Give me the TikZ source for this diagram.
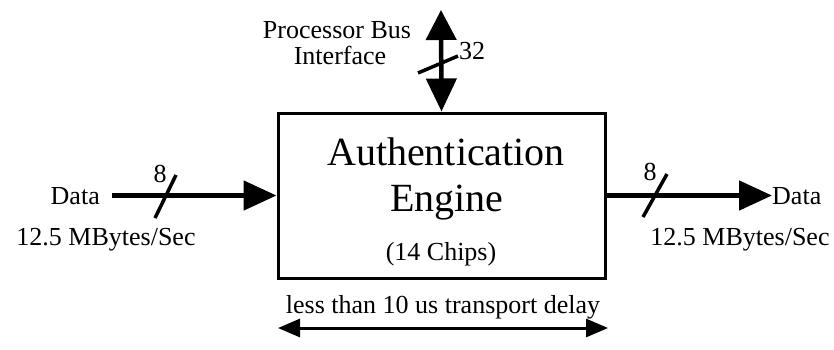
\documentclass[tikz,border=0pt]{standalone}
\usepackage{fontspec}
\setmainfont{Liberation Serif}
\usetikzlibrary{arrows.meta,positioning,calc}
\tikzset{
  bus/.style={line width=5pt, -{Triangle[length=33pt,width=29pt]}},
  bibus/.style={line width=4.5pt, {Triangle[length=30pt,width=30pt]}-{Triangle[length=33pt,width=30pt]}},
  slash/.style={line width=3.5pt},
  lbl/.style={font=\fontsize{26}{26}\selectfont, inner sep=0pt},
  big/.style={font=\fontsize{40}{46}\selectfont, inner sep=0pt},
}

\begin{document}
\begin{tikzpicture}[x=1pt, y=-1pt]
\useasboundingbox (0,0) rectangle (834,349);
% the engine box and its text
\node[rectangle, draw, line width=3pt, minimum width=327pt, minimum height=165pt] (engine) at (441.5,195.5) {};
\node[big, anchor=base] (authln) at (446,165) {Authentication};
\node[big, anchor=base] (engln) at (447,211) {Engine};
\node[lbl, anchor=base] (chips) at (441,260) {(14 Chips)};

% data in
\node[lbl, anchor=base east] (datain) at (100,204) {Data};
\node[lbl, anchor=base] (ratein) at (106,245) {12.5 MBytes/Sec};
\draw[bus, shorten <=12pt] (datain.east |- engine.west) -- (engine.west);
\draw[slash] (165,197) +(-10,21) -- +(11,-22);
\node[lbl, anchor=base] (widthin) at (160,182) {8};

% data out
\node[lbl, anchor=base west] (dataout) at (772,204) {Data};
\node[lbl, anchor=base] (rateout) at (740,245) {12.5 MBytes/Sec};
\draw[bus] (engine.east) -- (engine.east -| dataout.west);
\draw[slash] (655,196) +(-12,21) -- +(12,-22);
\node[lbl, anchor=base] (widthout) at (650,180) {8};

% processor bus
\coordinate (bustop) at (441,10);
\draw[bibus] (bustop) -- (engine.north);
\draw[slash] (418,73) -- (458,56);
\node[lbl, anchor=base] (buswidth) at (472,59) {32};
\node[lbl, anchor=base] (busA) at (337,38) {Processor Bus};
\node[lbl, anchor=base] (busB) at (340,64) {Interface};

% transport delay
\node[lbl, anchor=base] (delay) at (443,313) {less than 10 us transport delay};
\coordinate (dleft) at (278,328);
\coordinate (dright) at (608,328);
\draw[line width=3pt, {Triangle[length=22pt,width=18pt]}-{Triangle[length=22pt,width=18pt]}] (dleft) -- (dright);
\end{tikzpicture}
\end{document}
